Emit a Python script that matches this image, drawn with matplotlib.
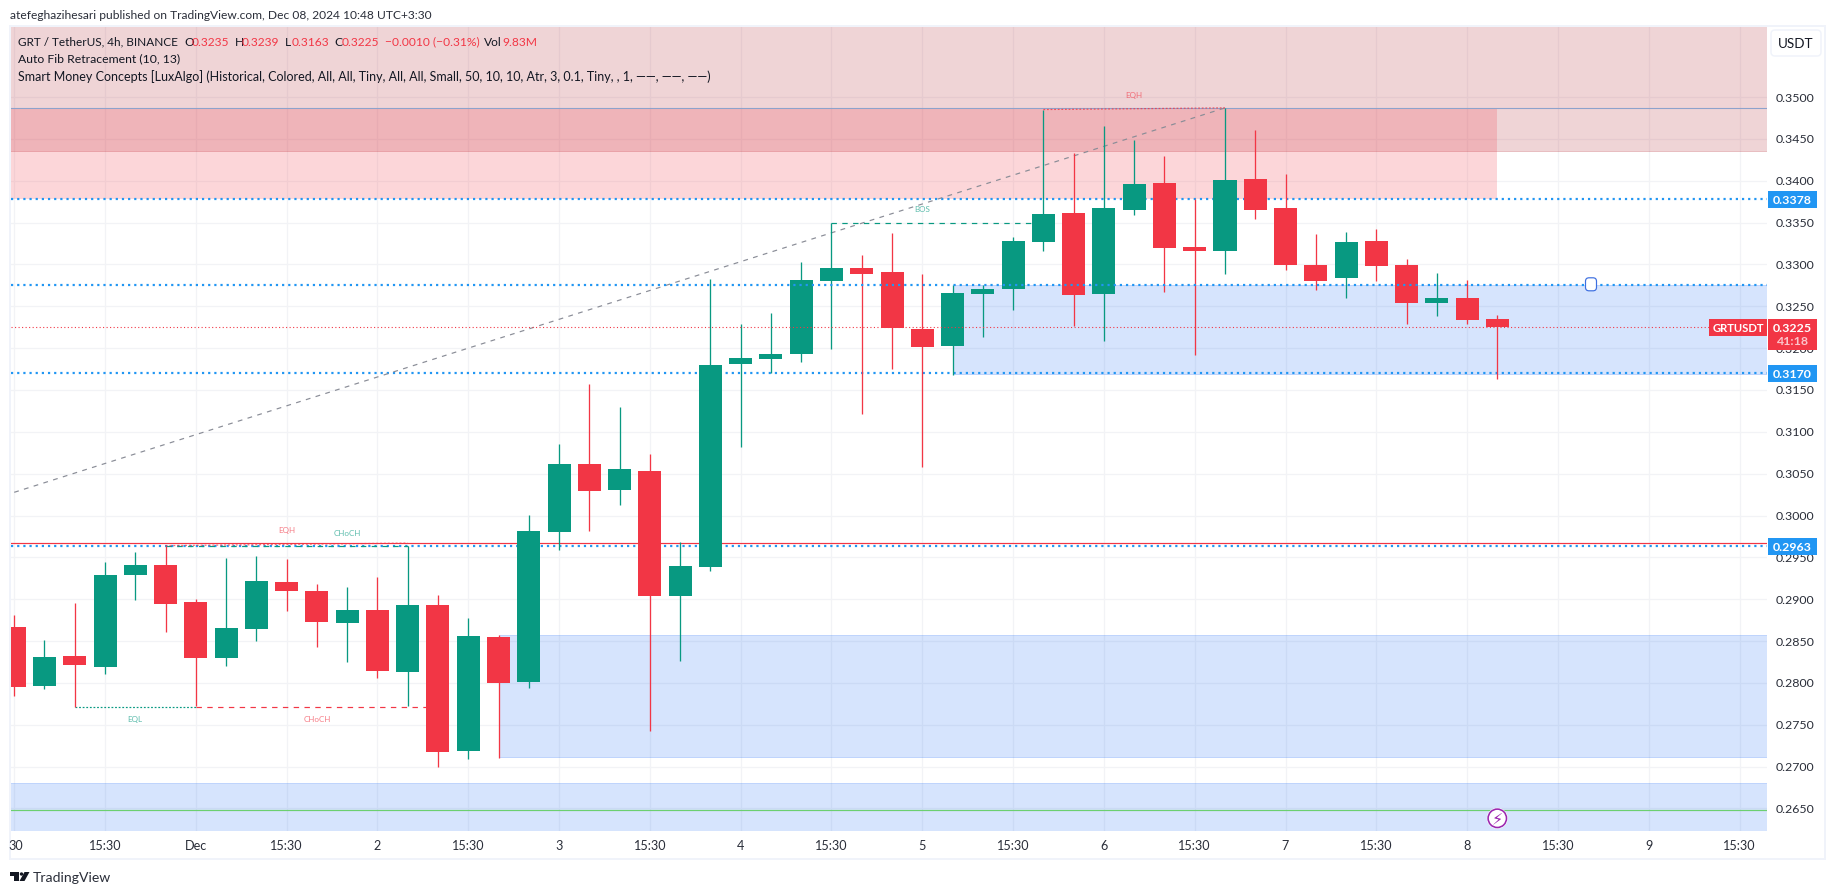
import matplotlib
matplotlib.use("Agg")
import matplotlib.pyplot as plt
from matplotlib.patches import Rectangle, FancyBboxPatch, Circle, Polygon

# ---------- data ----------
is_up = [0,1,0,1,1,0,0,1,1,0,0,1,0,1,0,1,0,1,1,0,1,0,1,1,1,1,1,1,0,0,0,1,1,1,1,0,1,1,0,0,1,0,0,0,1,0,0,1,0,0]
highs = [.2881,.2851,.2895,.2944,.2956,.2964,.2900,.2949,.2952,.2948,.2918,.2915,.2926,.2964,.2905,.2878,.2857,.3001,
         .3085,.3157,.3130,.3074,.2968,.3283,.3229,.3242,.3303,.3350,.3311,.3338,.3289,.3275,.3275,.3333,.3485,.3433,
         .3465,.3449,.3430,.3378,.3487,.3461,.3408,.3336,.3339,.3342,.3306,.3290,.3281,.3239]
body_tops = [.2867,.2831,.2832,.2929,.2941,.2941,.2897,.2866,.2922,.2921,.2910,.2887,.2887,.2893,.2893,.2856,.2855,.2981,
             .3062,.3062,.3056,.3053,.2940,.3180,.3188,.3193,.3281,.3296,.3296,.3291,.3223,.3266,.3271,.3328,.3360,.3361,
             .3367,.3396,.3397,.3321,.3401,.3402,.3367,.3299,.3327,.3328,.3299,.3260,.3260,.3235]
body_bots = [.2795,.2796,.2821,.2819,.2929,.2894,.2830,.2830,.2864,.2910,.2873,.2872,.2814,.2813,.2717,.2719,.2800,.2801,
             .2980,.3029,.3030,.2904,.2904,.2938,.3181,.3187,.3193,.3280,.3289,.3224,.3201,.3203,.3265,.3271,.3327,.3263,
             .3265,.3365,.3320,.3316,.3316,.3365,.3299,.3280,.3284,.3298,.3254,.3254,.3234,.3225]
lows = [.2784,.2793,.2771,.2811,.2899,.2861,.2772,.2820,.2850,.2886,.2843,.2825,.2806,.2772,.2699,.2709,.2710,.2794,
        .2959,.2981,.3013,.2743,.2826,.2934,.3082,.3170,.3183,.3199,.3121,.3175,.3058,.3168,.3213,.3246,.3316,.3226,
        .3208,.3359,.3267,.3192,.3289,.3354,.3293,.3269,.3260,.3280,.3229,.3238,.3229,.3163]
price_ticks = [.265,.27,.275,.28,.285,.29,.295,.30,.305,.31,.315,.32,.325,.33,.335,.34,.345,.35]
time_tick_pos = [0,3,6,9,12,15,18,21,24,27,30,33,36,39,42,45,48,51,54,57]
time_tick_lab = ["30","15:30","Dec","15:30","2","15:30","3","15:30","4","15:30","5","15:30","6","15:30","7","15:30","8","15:30","9","15:30"]
dotted_levels = [.3378,.3275,.3170,.2963]
tagged_levels = [.3378,.3170,.2963]
last_price = .3225
top_line, red_line, green_line = .3487, .29675, .2648
fib_x, fib_y = [0,40], [.30277,.3487]

# ---------- layout ----------
W, H = 1835, 895
L, R, T, B = 10.5, 1767, 27, 832
GREEN, RED, BLUE, TEXT = "#089981", "#F23645", "#2196F3", "#131722"
PX_PER_BAR, X0 = 30.27, 14.2
PX_PER_UNIT, Y30 = 8370, 516.5
FONT = "Lato"
plt.rcParams["font.family"] = [FONT, "DejaVu Sans"]

fig = plt.figure(figsize=(W/100, H/100), dpi=100, facecolor="white")
ax = fig.add_axes([L/W, 1-B/H, (R-L)/W, (B-T)/H])
ax.set_xlim((L-X0)/PX_PER_BAR, (R-X0)/PX_PER_BAR)
ax.set_ylim(.3-(B-Y30)/PX_PER_UNIT, .3+(Y30-T)/PX_PER_UNIT)
for s in ax.spines.values():
    s.set_visible(False)
ax.set_xticks([]); ax.set_yticks([])
px = 0.72  # points per pixel

def ftext(x, y, s, color=TEXT, size=13, ha="left", va="center", **kw):
    return fig.text(x/W, 1-y/H, s, color=color, fontsize=size*px, ha=ha, va=va, **kw)

# grid
GRID = "#F2F3F6"
for v in price_ticks:
    ax.axhline(v, color=GRID, lw=1.3*px, zorder=1)
for v in time_tick_pos:
    ax.axvline(v, color=GRID, lw=1.3*px, zorder=1)

# zones
xa, xb = ax.get_xlim()
ya, yb = ax.get_ylim()
def zone(x0, x1, y0, y1, rgb, a=.2, ea=.22):
    ax.add_patch(Rectangle((x0, y0), x1-x0, y1-y0, fc=(*rgb, a), ec=(*rgb, ea), lw=1*px, zorder=2))
DARK = (0.70, 0.157, 0.20)
LIGHT = (0.949, 0.212, 0.271)
ZB = (39/255, 113/255, 245/255)
zone(xa-1, xb+1, .3435, yb+.01, DARK)
ax.add_patch(Rectangle((xa-1, .3378), 49-xa+1, top_line-.3378, fc=(*LIGHT, .2), ec="none", zorder=2))
zone(31, xb+1, .3169, .3275, ZB, a=.19, ea=.22)
zone(16, xb+1, .2711, .2857, ZB, a=.19, ea=.22)
zone(xa-1, xb+1, ya-.01, .2680, ZB, a=.19, ea=.22)

# horizontal levels
ax.axhline(top_line, color="#8DA2CC", lw=1.1*px, zorder=3)
ax.axhline(red_line, color=RED, lw=1.2*px, zorder=3)
ax.axhline(green_line, color="#6CCF70", lw=1.2*px, zorder=3)
for v in dotted_levels:
    ax.axhline(v, color=BLUE, lw=2.2*px, ls=(0, (1, 1.8)), zorder=7 if v == .3275 else 3)

# structure lines
ax.plot(fib_x, fib_y, color="#8A8D97", lw=1.2*px, ls=(0, (4, 4.5)), zorder=3)
DOT = (0, (1.5, 1.5)); DASH = (0, (4.5, 4.5))
ax.plot([2, 6], [.2771, .2771], color=GREEN, lw=1.2*px, ls=DOT, zorder=3)
ax.plot([6, 14], [.2771, .2771], color=RED, lw=1.2*px, ls=DASH, zorder=3)
ax.plot([5, 13], [.2964, .2964], color=GREEN, lw=1.2*px, ls=DASH, zorder=3)
ax.plot([5, 13], [.2964, .2967], color=RED, lw=1.3*px, ls=DOT, alpha=.7, zorder=3)
ax.plot([27, 34], [.3350, .3350], color=GREEN, lw=1.2*px, ls=DASH, zorder=3)
ax.plot([34, 40], [.3485, .3487], color=RED, lw=1.2*px, ls=DOT, alpha=.8, zorder=3)

# candles
for i, up in enumerate(is_up):
    c = GREEN if up else RED
    ax.vlines(i, lows[i], highs[i], color=c, lw=1.3*px, zorder=4)
    ax.add_patch(Rectangle((i-.38, body_bots[i]), .76, body_tops[i]-body_bots[i], fc=c, ec="none", zorder=5))

# last price line
ax.plot([xa, (1709-X0)/PX_PER_BAR], [last_price]*2, color=RED, lw=1.1*px, ls=(0, (1, 2.2)), zorder=6)

# small labels
for x, y, s, c in [(9, .2983, "EQH", RED), (11, .2980, "CHoCH", GREEN), (4, .2758, "EQL", GREEN),
                   (10, .2758, "CHoCH", RED), (30, .3367, "BOS", GREEN), (37, .3503, "EQH", RED)]:
    ax.text(x, y, s, color=c, fontsize=8*px, ha="center", va="center", alpha=.65, zorder=8)

# icon markers
ax.add_patch(FancyBboxPatch((1591-5.5, H-285.3-6.5), 11, 13, boxstyle="round,pad=0,rounding_size=3.5",
                            fc="white", ec="#3D6FE0", lw=1.2*px, transform=None, zorder=9, clip_on=False))
ax.add_patch(Circle((1497.3, H-819.3), 10.5, fc="white", ec="none", transform=None, zorder=9))
ax.add_patch(Circle((1497.3, H-819.3), 9.2, fc="white", ec="#9C27B0", lw=1.6*px, transform=None, zorder=10))
fig.text(1497.3/W, 1-819.5/H, "\u26A1", color="#9C27B0", fontsize=16*px, ha="center", va="center",
         family="DejaVu Sans", zorder=20)

# axis labels
for x, s in zip(time_tick_pos, time_tick_lab):
    ftext(X0+x*PX_PER_BAR + (2 if s == "30" else 0), 846.5, s, color="#2A2E39", size=12.6, ha="center")
for v in price_ticks:
    ftext(1776, Y30-(v-.3)*PX_PER_UNIT, f"{v:.4f}", color="#2A2E39", size=12.4, zorder=1)

# frame
fig.add_artist(Rectangle((9.5/W, 1-860/H), 1815/W, 833.5/H, transform=fig.transFigure, fc="none", ec="#F0F3FA", lw=2*px))

def tag(x0, x1, y0, y1, c):
    fig.add_artist(Rectangle((x0/W, 1-y1/H), (x1-x0)/W, (y1-y0)/H, transform=fig.transFigure, fc=c, ec="none", zorder=5))
for v in tagged_levels:
    yc = Y30-(v-.3)*PX_PER_UNIT
    tag(1768, 1817, yc-8.5, yc+8.5, BLUE)
    ftext(1792.5, yc, f"{v:.4f}", color="white", size=12.4, ha="center", zorder=6, fontweight="bold")
tag(1709, 1767, 319.5, 336.5, RED)
tag(1768, 1817, 319.5, 350.5, RED)
ftext(1738, 328, "GRTUSDT", color="white", size=11.3, ha="center", zorder=6, fontweight="bold")
ftext(1792.5, 328, "0.3225", color="white", size=12.4, ha="center", zorder=6, fontweight="bold")
ftext(1792.5, 342, "41:18", color="#FBC4CA", size=12.4, ha="center", zorder=6, fontweight="bold")

# currency button
fig.add_artist(FancyBboxPatch((1771, H-57), 50, 26, boxstyle="round,pad=0,rounding_size=4",
                              fc="white", ec="#F0F3FA", lw=1.5*px, transform=None))
ftext(1796, 44, "USDT", color=TEXT, size=13.5, ha="center")

# header and legend
ftext(10, 15.5, "atefeghazihesari published on TradingView.com, Dec 08, 2024 10:48 UTC+3:30", color="#2A2E39", size=12)
for x, s, c, sz in [(18, "GRT / TetherUS, 4h, BINANCE", TEXT, 11.7), (184, "O", TEXT, 12), (191.5, "0.3235", RED, 12),
                    (235, "H", TEXT, 12), (242, "0.3239", RED, 12), (285, "L", TEXT, 12), (292, "0.3163", RED, 12),
                    (334.5, "C", TEXT, 12), (342, "0.3225", RED, 12), (385, "\u22120.0010 (\u22120.31%)", RED, 12),
                    (484, "Vol", TEXT, 12), (502, "9.83M", RED, 12)]:
    ftext(x, 42, s, color=c, size=sz)
ftext(18, 59, "Auto Fib Retracement (10, 13)", size=12.2)
ftext(18, 76.5, "Smart Money Concepts [LuxAlgo] (Historical, Colored, All, All, Tiny, All, All, Small, 50, 10, 10, Atr, 3, 0.1, Tiny, , 1, \u2014\u2014, \u2014\u2014, \u2014\u2014)", size=12.55)

# footer logo
LOGO = "#131722"
fig.add_artist(Rectangle((10/W, 1-876.5/H), 9/W, 3.5/H, transform=fig.transFigure, fc=LOGO, ec="none"))
fig.add_artist(Rectangle((14/W, 1-882/H), 5/W, 9/H, transform=fig.transFigure, fc=LOGO, ec="none"))
fig.add_artist(Circle((21.5, H-875), 1.7, transform=None, fc=LOGO, ec="none"))
fig.add_artist(Polygon([(24.5/W, 1-873/H), (29.5/W, 1-873/H), (24.5/W, 1-882/H), (19.5/W, 1-882/H)], closed=True,
                       transform=fig.transFigure, fc=LOGO, ec="none"))
ftext(33, 878, "TradingView", color="#2A2E39", size=14)

fig.savefig("out.png", dpi=100, facecolor="white")
